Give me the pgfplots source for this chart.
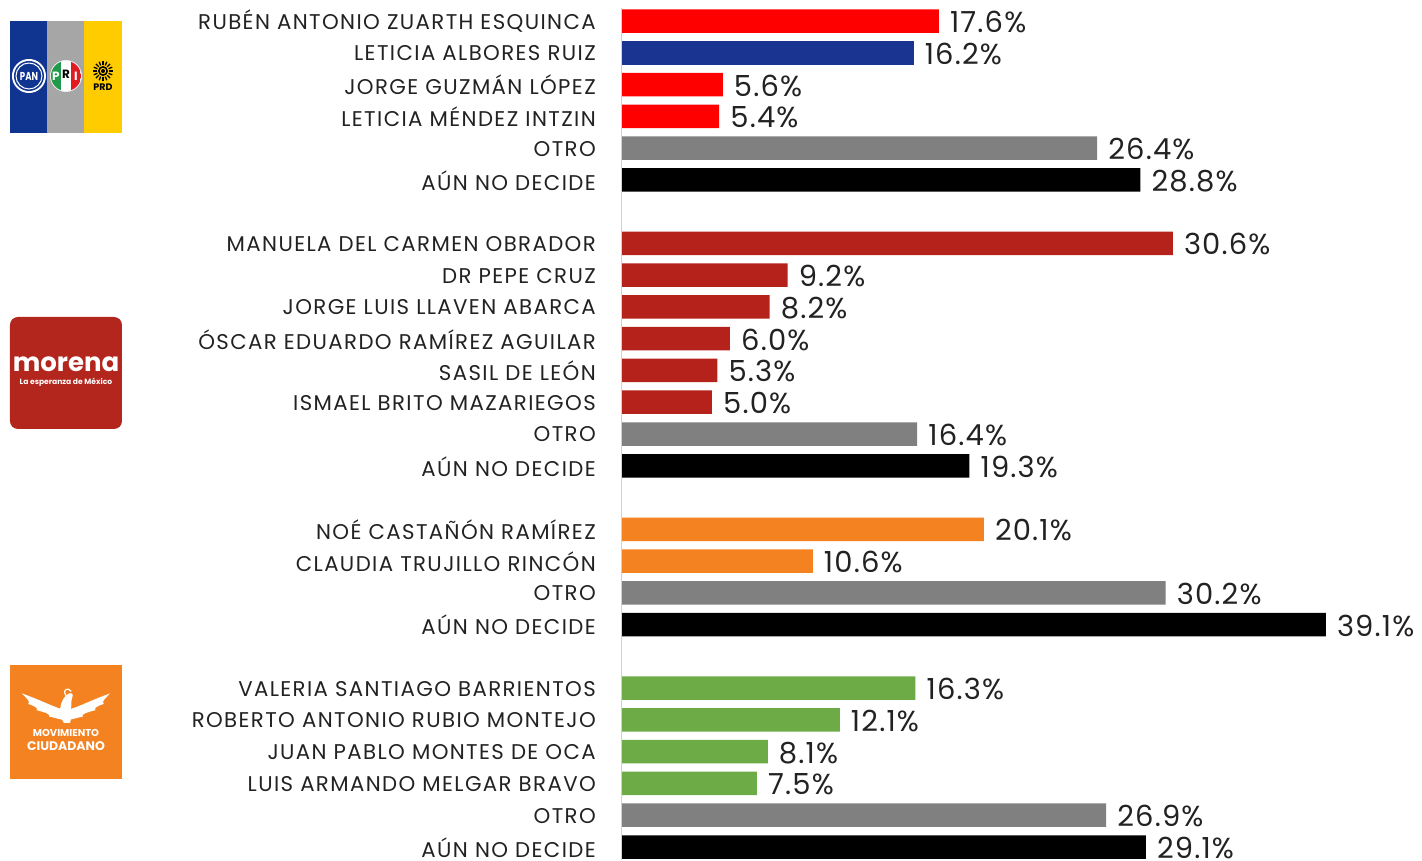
\documentclass[border=0pt]{standalone}
\usepackage{fontspec}
\setmainfont{Poppins}
\newfontfamily\labfont[LetterSpace=6.5]{Poppins}
\newfontfamily\valfont[LetterSpace=4]{Poppins}
\usepackage{pgfplots}
\pgfplotsset{compat=1.18}
\definecolor{cred}{HTML}{FF0000}
\definecolor{cblue}{HTML}{1A3591}
\definecolor{cmorena}{HTML}{B5211B}
\definecolor{cgray}{HTML}{808080}
\definecolor{corange}{HTML}{F58220}
\definecolor{cgreen}{HTML}{6DAB47}
\definecolor{ctext}{HTML}{222222}
\definecolor{panblue}{HTML}{0F3591}
\definecolor{prigray}{HTML}{A6A6A6}
\definecolor{prdyellow}{HTML}{FFCC00}
\definecolor{morenabg}{HTML}{B3261E}
\definecolor{mcorange}{HTML}{F58220}
\definecolor{prigreen}{HTML}{1E9A48}
\definecolor{prired}{HTML}{E11B22}
\begin{document}
\begin{tikzpicture}
\begin{axis}[
  at={(0,0)}, anchor=south west,
  scale only axis, width=800pt, height=860pt,
  xmin=0, xmax=44.444, ymin=-0.661, ymax=26.409,
  y dir=reverse,
  axis line style={draw=none},
  xtick=\empty,
  ytick={0,1,2,3,4,5,7,8,9,10,11,12,13,14,16,17,18,19,21,22,23,24,25,26},
  yticklabels={RUBÉN ANTONIO ZUARTH ESQUINCA,LETICIA ALBORES RUIZ,JORGE GUZMÁN LÓPEZ,LETICIA MÉNDEZ INTZIN,OTRO,AÚN NO DECIDE,
    MANUELA DEL CARMEN OBRADOR,DR PEPE CRUZ,JORGE LUIS LLAVEN ABARCA,ÓSCAR EDUARDO RAMÍREZ AGUILAR,SASIL DE LEÓN,ISMAEL BRITO MAZARIEGOS,OTRO,AÚN NO DECIDE,
    NOÉ CASTAÑÓN RAMÍREZ,CLAUDIA TRUJILLO RINCÓN,OTRO,AÚN NO DECIDE,
    VALERIA SANTIAGO BARRIENTOS,ROBERTO ANTONIO RUBIO MONTEJO,JUAN PABLO MONTES DE OCA,LUIS ARMANDO MELGAR BRAVO,OTRO,AÚN NO DECIDE},
  major tick length=0pt,
  yticklabel style={font=\labfont\fontsize{21.3}{22}\selectfont, text=ctext, inner sep=0pt, anchor=east},
  y tick label style={xshift=-26pt, yshift=-0.5pt},
  clip=false,
  xbar, bar shift=0pt, bar width=23.5pt,
  nodes near coords={\pgfmathprintnumber[fixed,fixed zerofill,precision=1,assume math mode=true]{\pgfplotspointmeta}\%},
  point meta=explicit,
  every node near coord/.append style={font=\valfont\fontsize{29}{30}\selectfont, text=ctext, inner sep=0pt, anchor=west, xshift=11pt, yshift=-1pt},
]
\addplot[fill=cred, draw=none] coordinates {(17.6,0) [17.6] (5.6,2) [5.6] (5.4,3) [5.4]};
\addplot[fill=cblue, draw=none] coordinates {(16.2,1) [16.2]};
\addplot[fill=cmorena, draw=none] coordinates {(30.6,7) [30.6] (9.2,8) [9.2] (8.2,9) [8.2] (6.0,10) [6.0] (5.3,11) [5.3] (5.0,12) [5.0]};
\addplot[fill=corange, draw=none] coordinates {(20.1,16) [20.1] (10.6,17) [10.6]};
\addplot[fill=cgreen, draw=none] coordinates {(16.3,21) [16.3] (12.1,22) [12.1] (8.1,23) [8.1] (7.5,24) [7.5]};
\addplot[fill=cgray, draw=none] coordinates {(26.4,4) [26.4] (16.4,13) [16.4] (30.2,18) [30.2] (26.9,25) [26.9]};
\addplot[fill=black, draw=none] coordinates {(28.8,5) [28.8] (19.3,14) [19.3] (39.1,19) [39.1] (29.1,26) [29.1]};
\draw[gray!35, line width=1pt] (axis cs:0,-0.42) -- (axis cs:0,26.409);
\end{axis}
% ---- PAN / PRI / PRD logo ----
\fill[panblue] (-612pt,727pt) rectangle (-575pt,839pt);
\fill[prigray] (-575pt,727pt) rectangle (-538pt,839pt);
\fill[prdyellow] (-538pt,727pt) rectangle (-500pt,839pt);
\fill[white] (-593pt,784pt) circle (17pt);
\fill[panblue] (-593pt,784pt) circle (15pt);
\draw[white, line width=1pt] (-593pt,784pt) circle (13pt);
\node[white, font=\fontsize{11.5}{11}\bfseries\selectfont, xscale=0.75] at (-593pt,784pt) {PAN};
\fill[white!92!black] (-556pt,784pt) circle (16pt);
\begin{scope}
\clip (-556pt,784pt) circle (15pt);
\fill[prigreen] (-571pt,769pt) rectangle (-561pt,799pt);
\fill[white] (-561pt,769pt) rectangle (-551pt,799pt);
\fill[prired] (-551pt,769pt) rectangle (-541pt,799pt);
\end{scope}
\node[white, font=\fontsize{12}{12}\bfseries\selectfont] at (-566pt,784pt) {P};
\node[black, font=\fontsize{12}{12}\bfseries\selectfont] at (-556pt,786pt) {R};
\node[white, font=\fontsize{12}{12}\bfseries\selectfont] at (-546pt,784pt) {I};
\fill[black] (-519pt,789pt) circle (5pt);
\fill[prdyellow] (-519pt,789pt) circle (3.2pt);
\fill[black] (-519pt,789pt) circle (2pt);
\foreach \a in {0,22.5,...,337.5} {\draw[black, line width=1.3pt] ([shift={(\a:6pt)}]-519pt,789pt) -- ([shift={(\a:10pt)}]-519pt,789pt);}
\node[black, font=\fontsize{9.5}{9}\bfseries\selectfont] at (-519pt,773pt) {PRD};
% ---- morena logo ----
\fill[morenabg, rounded corners=8pt] (-612pt,431pt) rectangle (-500pt,543pt);
\node[white, font=\fontsize{26}{26}\bfseries\selectfont, inner sep=0pt] at (-556pt,496pt) {morena};
\node[white, font=\fontsize{7.6}{8}\bfseries\selectfont, inner sep=0pt] at (-556pt,478pt) {La esperanza de México};
% ---- Movimiento Ciudadano logo ----
\fill[mcorange] (-612pt,81pt) rectangle (-500pt,195pt);
\begin{scope}[shift={(-556pt,154pt)}, scale=1.05]
\fill[white] (0pt,-4pt) .. controls (-10pt,-2pt) and (-20pt,4pt) .. (-42pt,12pt)
  .. controls (-36pt,6pt) and (-34pt,4pt) .. (-36pt,2pt)
  .. controls (-30pt,0pt) and (-26pt,-2pt) .. (-28pt,-4pt)
  .. controls (-20pt,-6pt) and (-14pt,-8pt) .. (-16pt,-10pt)
  .. controls (-8pt,-12pt) .. (0pt,-14pt) -- cycle;
\fill[white] (0pt,-4pt) .. controls (10pt,-2pt) and (20pt,4pt) .. (42pt,12pt)
  .. controls (36pt,6pt) and (34pt,4pt) .. (36pt,2pt)
  .. controls (30pt,0pt) and (26pt,-2pt) .. (28pt,-4pt)
  .. controls (20pt,-6pt) and (14pt,-8pt) .. (16pt,-10pt)
  .. controls (8pt,-12pt) .. (0pt,-14pt) -- cycle;
\fill[white] (-2pt,-16pt) .. controls (-8pt,-8pt) and (-6pt,4pt) .. (0pt,10pt)
  .. controls (4pt,14pt) and (8pt,12pt) .. (6pt,8pt)
  .. controls (4pt,4pt) and (6pt,-6pt) .. (4pt,-16pt) -- cycle;
\draw[white, line width=1.2pt] (0pt,10pt) .. controls (-4pt,16pt) and (2pt,18pt) .. (5pt,14pt);
\end{scope}
\node[white, font=\fontsize{10}{10}\bfseries\selectfont, inner sep=0pt] at (-556pt,127pt) {MOVIMIENTO};
\node[white, font=\fontsize{12.5}{12}\bfseries\selectfont, inner sep=0pt] at (-556pt,114pt) {CIUDADANO};
\pgfresetboundingbox
\path (-622pt,0pt) rectangle (800pt,860pt);
\end{tikzpicture}
\end{document}
